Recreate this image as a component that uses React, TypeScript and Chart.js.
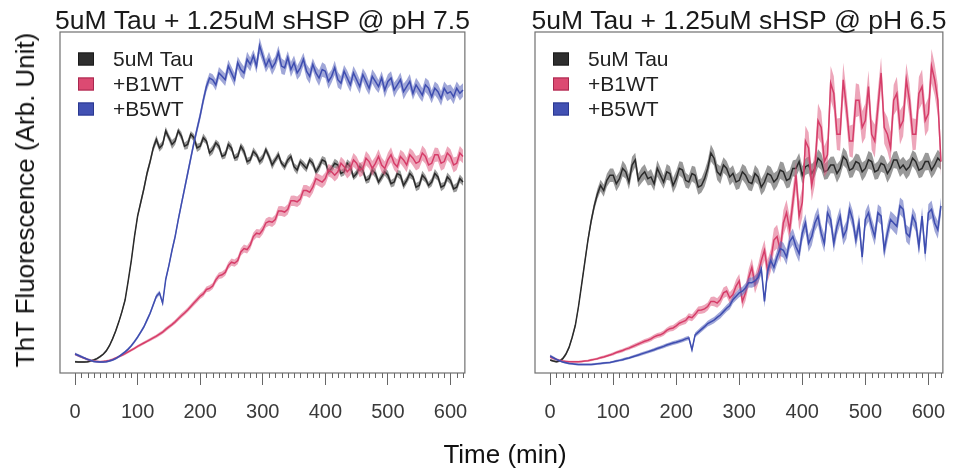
import React, { useEffect, useRef } from "react";
import { Chart, registerables } from "chart.js";

Chart.register(...registerables);

// ---------- data (5-min sampling) ----------
const TIME = [
  0, 5, 10, 15, 20, 25, 30, 35, 40, 45,
  50, 55, 60, 65, 70, 75, 80, 85, 90, 95,
  100, 105, 110, 115, 120, 125, 130, 135, 140, 145,
  150, 155, 160, 165, 170, 175, 180, 185, 190, 195,
  200, 205, 210, 215, 220, 225, 230, 235, 240, 245,
  250, 255, 260, 265, 270, 275, 280, 285, 290, 295,
  300, 305, 310, 315, 320, 325, 330, 335, 340, 345,
  350, 355, 360, 365, 370, 375, 380, 385, 390, 395,
  400, 405, 410, 415, 420, 425, 430, 435, 440, 445,
  450, 455, 460, 465, 470, 475, 480, 485, 490, 495,
  500, 505, 510, 515, 520, 525, 530, 535, 540, 545,
  550, 555, 560, 565, 570, 575, 580, 585, 590, 595,
  600, 605, 610, 615, 620,
];

const MAJOR_TICKS = [0, 100, 200, 300, 400, 500, 600];
const MINOR_TICK_STEP = 10;
const X_MIN = -24;
const X_MAX = 623;

const SERIES_NAMES = ["5uM Tau", "+B1WT", "+B5WT"];
const PANEL_TITLES = ["5uM Tau + 1.25uM sHSP @ pH 7.5", "5uM Tau + 1.25uM sHSP @ pH 6.5"];
const Y_TITLE = "ThT Fluorescence (Arb. Unit)";
const X_TITLE = "Time (min)";

// ----- pH 7.5 panel -----
const L_TAU = [
  3.3, 3.2, 3.2, 3.2, 3.3, 3.5, 3.8, 4.2, 4.8, 5.5,
  6.5, 8, 10, 12.3, 15, 18, 21.4, 27, 33, 40,
  46, 50, 54, 58.5, 62, 66, 68.5, 66, 67, 71,
  69, 67, 68, 71, 69.5, 66.5, 67, 70, 69, 66,
  66.5, 69, 68, 64.5, 65.5, 67.5, 66.5, 63.5, 64, 67,
  66, 63, 63.5, 66.5, 65, 62, 62.5, 65, 64, 62,
  63, 65.5, 63.5, 61, 62.5, 64, 61.5, 60.5, 62.5, 63.5,
  60.5, 59.5, 62, 61, 60, 62.5, 61.5, 59, 60.5, 62.5,
  62, 59, 60, 61.5, 61, 58.5, 59, 61.5, 60.5, 57.5,
  58.5, 60.5, 59.5, 56.5, 57, 59.5, 58.5, 56, 57.5, 59,
  58, 55.5, 56, 58.5, 58, 55, 56.5, 58.5, 57.5, 54.5,
  55, 58, 57, 55, 56, 58.5, 57.5, 54.5, 55, 57.5,
  56.5, 54, 54.5, 57, 56,
];
const L_TAU_SD = [
  0.3, 0.3, 0.3, 0.3, 0.3, 0.3, 0.3, 0.3, 0.3, 0.3,
  0.4, 0.4, 0.4, 0.5, 0.5, 0.6, 0.6, 0.7, 0.8, 0.8,
  0.8, 0.9, 1, 1, 1, 1.1, 1.2, 1.1, 1, 1.2,
  1, 1.3, 1.1, 0.9, 1.2, 1, 1.3, 1, 1.1, 1.2,
  1, 1.2, 0.9, 1.1, 1.3, 1, 1.2, 0.9, 1.1, 1.2,
  1.1, 0.9, 1.2, 1, 1.3, 1.1, 1, 1.2, 0.9, 1.1,
  1.2, 1, 1.1, 1.3, 1, 1.2, 0.9, 1.1, 1.2, 1,
  1.1, 1.3, 1, 1.2, 1.1, 0.9, 1.2, 1, 1.3, 1.1,
  1.2, 1, 1.1, 1.3, 1.2, 1, 1.1, 1.2, 1.3, 1,
  1.1, 1.3, 1.2, 1, 1.2, 1.1, 1.3, 1, 1.2, 1.1,
  1.3, 1.1, 1.2, 1, 1.3, 1.2, 1.1, 1.3, 1, 1.2,
  1.2, 1.3, 1.1, 1, 1.2, 1.3, 1.1, 1.2, 1, 1.3,
  1.2, 1.1, 1.3, 1.2, 1.1,
];
const L_B1 = [
  5.5, 5.1, 4.7, 4.3, 4, 3.7, 3.5, 3.4, 3.3, 3.4,
  3.5, 3.7, 4, 4.4, 4.8, 5.2, 5.7, 6.2, 6.7, 7.2,
  7.8, 8.3, 8.8, 9.3, 9.8, 10.3, 10.8, 11.4, 12, 12.8,
  13.5, 14.2, 15, 15.9, 16.8, 17.6, 18.5, 19.5, 20.5, 21.5,
  22.5, 23.2, 24.5, 24.8, 25.5, 27.3, 28.5, 28.8, 29.5, 31.5,
  32.5, 32.2, 33, 35.5, 36.5, 36.2, 37.5, 40, 41, 40.8,
  42, 44, 44.5, 44.2, 45, 47.5, 47.5, 47.2, 48, 50.5,
  50.5, 50.2, 51, 53.5, 53.5, 53, 54.5, 57, 56.5, 56,
  57, 59.5, 59, 58, 59, 61.5, 60.5, 59, 60, 62.5,
  61.5, 59.5, 60, 63, 62, 60, 61.5, 63.5, 61, 60,
  62.5, 64, 61.5, 60.5, 63.5, 62.5, 61, 64, 63, 61.5,
  62, 64.5, 63.5, 61, 61.5, 64, 64, 61.5, 62, 64.5,
  63.5, 61, 61.5, 64.5, 63.5,
];
const L_B1_SD = [
  0.3, 0.3, 0.3, 0.3, 0.3, 0.3, 0.3, 0.3, 0.3, 0.3,
  0.3, 0.3, 0.3, 0.3, 0.35, 0.35, 0.4, 0.4, 0.4, 0.4,
  0.4, 0.45, 0.45, 0.45, 0.5, 0.5, 0.5, 0.55, 0.55, 0.6,
  0.6, 0.6, 0.65, 0.65, 0.7, 0.7, 0.7, 0.75, 0.75, 0.8,
  0.8, 0.85, 0.85, 0.9, 0.9, 0.95, 0.95, 1, 1, 1,
  1.05, 1.05, 1.1, 1.1, 1.15, 1.15, 1.2, 1.2, 1.25, 1.25,
  1.3, 1.3, 1.35, 1.35, 1.4, 1.4, 1.45, 1.45, 1.5, 1.5,
  1.55, 1.55, 1.6, 1.6, 1.65, 1.65, 1.7, 1.7, 1.75, 1.75,
  1.8, 1.8, 1.85, 1.85, 1.9, 1.9, 1.95, 1.95, 2, 2,
  2, 2.1, 2, 2.1, 2, 2.2, 2, 2.1, 2.2, 2,
  2.1, 2.2, 2, 2.1, 2, 2.2, 2.1, 2, 2.2, 2.1,
  2, 2.2, 2.1, 2, 2.2, 2.1, 2, 2.2, 2.1, 2,
  2.1, 2.2, 2, 2.1, 2,
];
const L_B5 = [
  5.6, 5.2, 4.8, 4.4, 4, 3.7, 3.4, 3.3, 3.2, 3.2,
  3.3, 3.5, 3.8, 4.2, 4.8, 5.5, 6.2, 7, 8, 9.2,
  10.5, 12, 13.5, 15.5, 17.5, 20, 22.5, 23.5, 20.5, 27.5,
  31.5, 36, 40, 45, 49.5, 54, 58.5, 63, 67.5, 71.5,
  75.5, 80, 84, 86.5, 86, 84.5, 88, 87, 86, 90,
  88, 86, 91, 89, 88, 92, 90.5, 93, 90, 96,
  93, 90, 92, 89.5, 91, 94, 90, 89.5, 92.5, 89,
  91, 88, 89.5, 92, 88.5, 87, 90.5, 88, 86.5, 89,
  88.5, 85.5, 87, 89.5, 86, 85, 88.5, 86.5, 84.5, 88,
  86, 84, 87.5, 85.5, 83.5, 87, 85.5, 84, 86.5, 83,
  85.5, 86.5, 83, 84.5, 86, 82.5, 84, 85.5, 82, 84.5,
  83, 81.5, 84.5, 83.5, 81, 83.5, 82.5, 80.5, 83.5, 82,
  82.5, 81, 83.5, 82, 83,
];
const L_B5_SD = [
  0.4, 0.4, 0.4, 0.3, 0.3, 0.3, 0.3, 0.3, 0.3, 0.3,
  0.3, 0.3, 0.3, 0.3, 0.3, 0.35, 0.35, 0.4, 0.4, 0.45,
  0.5, 0.5, 0.55, 0.6, 0.6, 0.65, 0.7, 0.7, 0.75, 0.8,
  0.85, 0.9, 0.95, 1, 1.05, 1.1, 1.15, 1.2, 1.25, 1.3,
  1.35, 1.4, 1.5, 1.55, 1.6, 1.65, 1.7, 1.75, 1.8, 1.85,
  1.9, 2, 1.8, 2.1, 1.9, 2.2, 2, 1.8, 2.1, 2.3,
  2, 1.9, 2.2, 2.1, 1.8, 2, 2.3, 2.1, 1.9, 2.2,
  2.1, 2, 2.3, 1.9, 2.1, 2.2, 1.8, 2, 2.3, 2.1,
  2, 2.2, 1.9, 2.1, 2.3, 2, 1.8, 2.2, 2.1, 2,
  2.2, 2.1, 1.9, 2.3, 2, 2.1, 2.2, 1.9, 2, 2.3,
  2.1, 2, 2.2, 1.9, 2.1, 2.3, 2, 2.2, 1.9, 2.1,
  2.2, 2, 2.1, 2.3, 1.9, 2, 2.2, 2.1, 2, 2.3,
  2.1, 2.2, 2, 2.1, 2,
];

// ----- pH 6.5 panel -----
const R_TAU = [
  3.8, 3.5, 3.3, 3.5, 4.2, 5.5, 7.5, 10.5, 14, 19.5,
  26, 32.5, 39, 44.5, 49, 52.5, 55, 53.5, 56.5, 58,
  58, 55.5, 57, 60, 59, 56, 61, 62.5, 56.5, 58,
  59, 57, 57.5, 55.5, 60, 58, 56, 59, 58.5, 55,
  57, 60, 59.5, 56.5, 56, 58.5, 58, 54.5, 55, 57,
  60, 64.5, 63, 59, 58, 61, 60, 57.5, 58.5, 56,
  56.5, 59, 58, 56, 55.5, 58.5, 57.5, 54.5, 56, 58.5,
  58, 56, 57, 59.5, 59, 56.5, 57, 60, 60, 62,
  58, 60.5, 61, 58.5, 60, 63, 62, 59, 59.5, 61,
  61, 58.5, 60, 63.5, 62.5, 59.5, 60, 62, 61.5, 59,
  60, 62.5, 62, 59, 59.5, 61.5, 61, 58.5, 60, 62.5,
  62.5, 60, 61, 59.5, 60.5, 63, 62, 59.5, 60, 62,
  62, 59.5, 61, 63, 62,
];
const R_TAU_SD = [
  0.3, 0.3, 0.3, 0.3, 0.4, 0.5, 0.5, 0.6, 0.7, 0.8,
  0.9, 1, 1.1, 1.2, 1.3, 1.5, 1.7, 1.8, 1.9, 2,
  2, 2.2, 2.1, 2.3, 2, 2.2, 2.4, 2.1, 2, 2.3,
  2.2, 2, 2.3, 2.1, 2.4, 2.2, 2, 2.3, 2.1, 2.2,
  2.3, 2.1, 2.4, 2.2, 2, 2.3, 2.5, 2.2, 2.1, 2.4,
  2.3, 2.5, 2.2, 2.4, 2.6, 2.3, 2.2, 2.5, 2.4, 2.3,
  2.5, 2.3, 2.6, 2.4, 2.2, 2.5, 2.3, 2.4, 2.6, 2.5,
  2.4, 2.6, 2.3, 2.5, 2.7, 2.4, 2.5, 2.3, 2.6, 2.5,
  2.6, 2.4, 2.5, 2.7, 2.4, 2.6, 2.5, 2.3, 2.6, 2.4,
  2.5, 2.7, 2.4, 2.6, 2.5, 2.3, 2.6, 2.4, 2.5, 2.7,
  2.4, 2.6, 2.5, 2.3, 2.6, 2.5, 2.4, 2.7, 2.5, 2.4,
  2.6, 2.5, 2.4, 2.7, 2.5, 2.3, 2.6, 2.4, 2.5, 2.6,
  2.5, 2.4, 2.6, 2.5, 2.4,
];
const R_B1 = [
  4.7, 4.3, 4, 3.7, 3.5, 3.4, 3.3, 3.3, 3.3, 3.3,
  3.4, 3.5, 3.6, 3.8, 4, 4.2, 4.5, 4.7, 5, 5.3,
  5.6, 6, 6.3, 6.6, 7, 7.3, 7.7, 8.1, 8.5, 8.9,
  9.3, 9.6, 10, 10.6, 11, 11.2, 11.7, 12.5, 13, 13.2,
  13.8, 14.6, 15, 15.4, 16.5, 16.2, 17.2, 18.4, 18.5, 18.8,
  19.5, 21, 21, 20.5, 21.5, 23.5, 24, 22, 23, 25.5,
  27, 21, 23.5, 28, 31, 26, 29, 33, 36, 30,
  33, 39, 40, 36, 44, 47, 42, 50, 58, 46,
  50, 68, 66, 55, 60, 74, 72, 62, 64, 85,
  82, 70, 70, 86, 78, 68, 68, 80, 80, 72,
  74, 84, 70, 68, 78, 88, 72, 70, 66, 80,
  82, 72, 74, 86, 80, 70, 70, 82, 84, 74,
  76, 90, 86, 80, 62,
];
const R_B1_SD = [
  0.4, 0.4, 0.3, 0.3, 0.3, 0.3, 0.3, 0.3, 0.3, 0.3,
  0.3, 0.3, 0.3, 0.35, 0.35, 0.35, 0.4, 0.4, 0.4, 0.4,
  0.45, 0.45, 0.5, 0.5, 0.5, 0.55, 0.55, 0.6, 0.6, 0.6,
  0.65, 0.65, 0.7, 0.7, 0.75, 0.75, 0.8, 0.8, 0.85, 0.85,
  0.9, 0.9, 0.95, 1, 1, 1.05, 1.1, 1.1, 1.15, 1.2,
  1.2, 1.3, 1.4, 1.4, 1.5, 1.6, 1.6, 1.7, 1.8, 1.9,
  2, 2.2, 2.3, 2.5, 2.6, 2.7, 2.8, 2.9, 3, 3.2,
  3.3, 3.4, 3.5, 3.6, 3.7, 3.8, 3.9, 4, 4.2, 4.3,
  4.4, 4.5, 4.6, 4.5, 4.8, 5, 4.7, 4.5, 4.9, 5,
  5, 4.6, 4.8, 5, 4.7, 4.5, 4.9, 5, 4.6, 4.8,
  5, 4.7, 4.5, 4.9, 5, 4.6, 4.8, 5, 4.7, 4.5,
  4.9, 5, 4.6, 4.8, 5, 4.7, 4.5, 4.9, 5, 4.6,
  4.8, 5, 4.6, 4.5, 4.2,
];
const R_B5 = [
  5, 4.5, 4, 3.6, 3.2, 3, 2.8, 2.7, 2.6, 2.5,
  2.5, 2.5, 2.5, 2.5, 2.6, 2.7, 2.8, 2.9, 3, 3.1,
  3.3, 3.5, 3.7, 3.9, 4.2, 4.4, 4.7, 5, 5.3, 5.6,
  5.9, 6.2, 6.5, 6.8, 7.2, 7.5, 7.8, 8.2, 8.5, 8.8,
  9, 9.3, 9.6, 10, 10.3, 6.8, 11.2, 12, 12.8, 13.6,
  14.5, 15, 15.5, 16.3, 17, 18, 19, 19.8, 21.5, 22.5,
  23.5, 24, 25, 26.5, 26.5, 27, 28, 30.5, 21, 30,
  33, 31, 34, 36.5, 36, 34, 38.5, 40, 37, 35,
  41, 44, 38, 40, 44, 46, 41, 38, 47, 45,
  38, 43, 46, 40, 42, 48, 45, 39, 44, 34,
  45, 47, 43, 40, 47, 46, 36, 41, 45, 44,
  43, 49, 48, 41, 40, 46, 44, 37, 46, 35,
  47, 48, 44, 42, 49,
];
const R_B5_SD = [
  0.4, 0.4, 0.3, 0.3, 0.3, 0.3, 0.3, 0.3, 0.3, 0.3,
  0.3, 0.3, 0.3, 0.3, 0.3, 0.3, 0.3, 0.3, 0.3, 0.3,
  0.3, 0.35, 0.35, 0.4, 0.4, 0.4, 0.4, 0.4, 0.45, 0.45,
  0.45, 0.5, 0.5, 0.5, 0.5, 0.5, 0.55, 0.55, 0.55, 0.6,
  0.6, 0.6, 0.6, 0.65, 0.65, 0.8, 0.7, 0.75, 0.8, 0.8,
  0.85, 0.9, 0.9, 0.95, 1, 1, 1.05, 1.1, 1.15, 1.2,
  1.25, 1.3, 1.35, 1.4, 1.5, 1.55, 1.6, 1.7, 1.8, 1.9,
  2, 2, 2.1, 2.2, 2.2, 2.3, 2.3, 2.4, 2.4, 2.5,
  2.5, 2.6, 2.5, 2.6, 2.5, 2.6, 2.5, 2.6, 2.5, 2.6,
  2.6, 2.5, 2.6, 2.5, 2.6, 2.5, 2.6, 2.5, 2.6, 2.5,
  2.5, 2.6, 2.5, 2.6, 2.5, 2.6, 2.5, 2.6, 2.5, 2.6,
  2.6, 2.5, 2.6, 2.5, 2.6, 2.5, 2.6, 2.5, 2.6, 2.5,
  2.5, 2.6, 2.5, 2.6, 2.5,
];

// ---------- styles ----------
const FONT = '"Liberation Sans", Arial, Helvetica, sans-serif';
const LINE_COLORS = ["#2a2a2a", "#d63d69", "#3e4db0"];
const BAND_COLORS = ["rgba(70,70,70,0.55)", "rgba(222,92,130,0.55)", "rgba(96,108,190,0.6)"];
const LEGEND_FILL = ["#2e2e2e", "#dc4a72", "#4251b3"];
const LEGEND_EDGE = ["#1a1a1a", "#a8284f", "#2a3890"];
const CANVAS_W = 478;
const CANVAS_H = 470;

type PanelProps = {
  left: number;
  title: string;
  means: number[][];
  sds: number[][];
  padLeft: number;
  padRight: number;
};

function buildDatasets(means: number[][], sds: number[][]) {
  const ds: any[] = [];
  // drawing orders: tau bottom, B1 middle, B5 top
  const orders = [
    [5, 4],
    [3, 2],
    [1, 0],
  ];
  means.forEach((m, s) => {
    const sd = sds[s];
    ds.push({
      label: "upper",
      data: TIME.map((t, i) => ({ x: t, y: m[i] + sd[i] })),
      borderWidth: 0,
      borderColor: "rgba(0,0,0,0)",
      pointRadius: 0,
      fill: false,
      order: orders[s][0],
    });
    ds.push({
      label: "lower",
      data: TIME.map((t, i) => ({ x: t, y: m[i] - sd[i] })),
      borderWidth: 0,
      borderColor: "rgba(0,0,0,0)",
      backgroundColor: BAND_COLORS[s],
      pointRadius: 0,
      fill: "-1",
      order: orders[s][0],
    });
    ds.push({
      label: SERIES_NAMES[s],
      data: TIME.map((t, i) => ({ x: t, y: m[i] })),
      borderColor: LINE_COLORS[s],
      backgroundColor: LINE_COLORS[s],
      borderWidth: 1.5,
      pointRadius: 0,
      fill: false,
      order: orders[s][1],
    });
  });
  return ds;
}

function Panel({ left, title, means, sds, padLeft, padRight }: PanelProps) {
  const ref = useRef<HTMLCanvasElement>(null);
  useEffect(() => {
    const decor = {
      id: "decor",
      afterDraw(chart: any) {
        const { ctx, chartArea: a } = chart;
        const xs = chart.scales.x;
        ctx.save();
        // frame
        ctx.strokeStyle = "#707070";
        ctx.lineWidth = 1.2;
        ctx.strokeRect(a.left, a.top, a.right - a.left, a.bottom - a.top);
        // minor ticks
        ctx.strokeStyle = "#666";
        ctx.lineWidth = 1;
        ctx.beginPath();
        xs.ticks.forEach((t: any) => {
          if (!MAJOR_TICKS.includes(t.value)) {
            const px = Math.round(xs.getPixelForValue(t.value)) + 0.5;
            ctx.moveTo(px, a.bottom);
            ctx.lineTo(px, a.bottom + 5);
          }
        });
        ctx.stroke();
        // title
        ctx.fillStyle = "#1a1a1a";
        ctx.font = `26.5px ${FONT}`;
        ctx.textAlign = "center";
        ctx.textBaseline = "alphabetic";
        ctx.fillText(title, (a.left + a.right) / 2, 29);
        // legend
        ctx.font = `21px ${FONT}`;
        ctx.textAlign = "left";
        ctx.textBaseline = "middle";
        SERIES_NAMES.forEach((name, i) => {
          const cy = a.top + 27 + i * 25;
          const bx = a.left + 18;
          ctx.fillStyle = LEGEND_FILL[i];
          ctx.fillRect(bx, cy - 6.5, 16, 13);
          ctx.strokeStyle = LEGEND_EDGE[i];
          ctx.lineWidth = 1;
          ctx.strokeRect(bx + 0.5, cy - 6, 15, 12);
          ctx.fillStyle = "#222";
          ctx.fillText(name, a.left + 53, cy + 1);
        });
        ctx.restore();
      },
    };

    const chart = new Chart(ref.current as HTMLCanvasElement, {
      type: "line",
      data: { datasets: buildDatasets(means, sds) },
      options: {
        animation: false,
        responsive: false,
        devicePixelRatio: 1,
        layout: { padding: { left: padLeft, right: padRight, top: 32, bottom: 37 } },
        plugins: { legend: { display: false }, tooltip: { enabled: false }, title: { display: false } },
        elements: { line: { tension: 0 } },
        scales: {
          x: {
            type: "linear",
            min: X_MIN,
            max: X_MAX,
            afterBuildTicks: (scale: any) => {
              const ticks: any[] = [];
              for (let v = 0; v <= TIME[TIME.length - 1]; v += MINOR_TICK_STEP) ticks.push({ value: v });
              scale.ticks = ticks;
            },
            afterFit: (scale: any) => {
              scale.height = 60;
            },
            ticks: {
              autoSkip: false,
              maxRotation: 0,
              padding: 15,
              color: "#3a3a3a",
              font: { family: FONT, size: 20 },
              callback: (v: any) => (MAJOR_TICKS.includes(Number(v)) ? String(v) : ""),
            },
            grid: {
              drawOnChartArea: false,
              drawTicks: true,
              tickLength: 12,
              tickColor: (c: any) => (c.tick && MAJOR_TICKS.includes(c.tick.value) ? "#666" : "rgba(0,0,0,0)"),
              lineWidth: 1,
            },
            border: { display: false },
          },
          y: {
            display: false,
            min: 0,
            max: 100,
          },
        },
      },
      plugins: [decor],
    } as any);
    return () => chart.destroy();
  }, []);
  return (
    <canvas
      ref={ref}
      width={CANVAS_W}
      height={CANVAS_H}
      style={{ position: "absolute", left, top: 0, width: CANVAS_W, height: CANVAS_H, display: "block" }}
    />
  );
}

export default function App() {
  return (
    <div
      style={{
        position: "absolute",
        left: 0,
        top: 0,
        width: 956,
        height: 470,
        background: "#fff",
        overflow: "hidden",
        fontFamily: FONT,
      }}
    >
      <Panel
        left={0}
        title={PANEL_TITLES[0]}
        means={[L_TAU, L_B1, L_B5]}
        sds={[L_TAU_SD, L_B1_SD, L_B5_SD]}
        padLeft={60}
        padRight={2}
      />
      <Panel
        left={478}
        title={PANEL_TITLES[1]}
        means={[R_TAU, R_B1, R_B5]}
        sds={[R_TAU_SD, R_B1_SD, R_B5_SD]}
        padLeft={57}
        padRight={5}
      />
      <div
        style={{
          position: "absolute",
          left: 505,
          top: 454,
          transform: "translate(-50%, -50%)",
          fontSize: 26,
          lineHeight: 1,
          whiteSpace: "nowrap",
          color: "#111",
        }}
      >
        {X_TITLE}
      </div>
      <div
        style={{
          position: "absolute",
          left: 24.5,
          top: 199.5,
          transform: "translate(-50%, -50%) rotate(-90deg)",
          fontSize: 26,
          lineHeight: 1,
          whiteSpace: "nowrap",
          color: "#111",
        }}
      >
        {Y_TITLE}
      </div>
    </div>
  );
}
